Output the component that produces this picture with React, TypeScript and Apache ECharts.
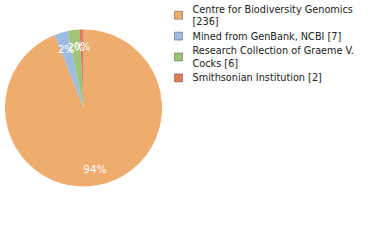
import React, { useEffect, useRef } from "react";
import * as echarts from "echarts";

const names = [
  "Centre for Biodiversity Genomics",
  "Mined from GenBank, NCBI",
  "Research Collection of Graeme V. Cocks",
  "Smithsonian Institution",
];
const legendLabels = [
  "Centre for Biodiversity Genomics\n[236]",
  "Mined from GenBank, NCBI [7]",
  "Research Collection of Graeme V.\nCocks [6]",
  "Smithsonian Institution [2]",
];
const counts = [236, 7, 6, 2];
const colors = ["#EFAC6F", "#9DBCDF", "#9DC575", "#E07C5C"];

export default function App() {
  const ref = useRef<HTMLDivElement>(null);
  useEffect(() => {
    document.body.style.margin = "0";
    const chart = echarts.init(ref.current!, undefined, { renderer: "svg" });
    const total = counts.reduce((a, b) => a + b, 0);
    const data = names.map((n, i) => ({ name: n, value: counts[i], itemStyle: { color: colors[i] } }));
    chart.setOption({
      animation: false,
      legend: {
        orient: "vertical",
        left: 174,
        top: 3,
        padding: 0,
        itemWidth: 8,
        itemHeight: 8,
        itemGap: 2.6,
        icon: "rect",
        itemStyle: { borderColor: "rgba(0,0,0,0.3)", borderWidth: 1 },
        formatter: (name: string) => legendLabels[names.indexOf(name)],
        textStyle: {
          fontFamily: "DejaVu Sans Condensed",
          fontSize: 10.8,
          color: "#222",
          lineHeight: 12.2,
          padding: [0, 0, 0, 5],
        },
        data: names,
      },
      series: [
        {
          type: "pie",
          center: [83.5, 108],
          radius: [0, 78.5],
          startAngle: 90,
          clockwise: true,
          label: { show: false },
          labelLine: { show: false },
          emphasis: { disabled: true },
          data,
        },
        {
          type: "pie",
          center: [83.5, 108],
          radius: [39, 78.5],
          startAngle: 90,
          clockwise: true,
          silent: true,
          itemStyle: { color: "transparent", opacity: 0 },
          labelLayout: { hideOverlap: false },
          label: {
            show: true,
            position: "inside",
            opacity: 1,
            color: "#fff",
            fontFamily: "DejaVu Sans",
            fontSize: 10.5,
            formatter: (p: any) => `${Math.floor((p.value / total) * 100)}%`,
          },
          labelLine: { show: false },
          emphasis: { disabled: true },
          data: names.map((n, i) => ({ name: n, value: counts[i] })),
        },
      ],
    });
    return () => chart.dispose();
  }, []);
  return <div ref={ref} style={{ width: 380, height: 240 }} />;
}
